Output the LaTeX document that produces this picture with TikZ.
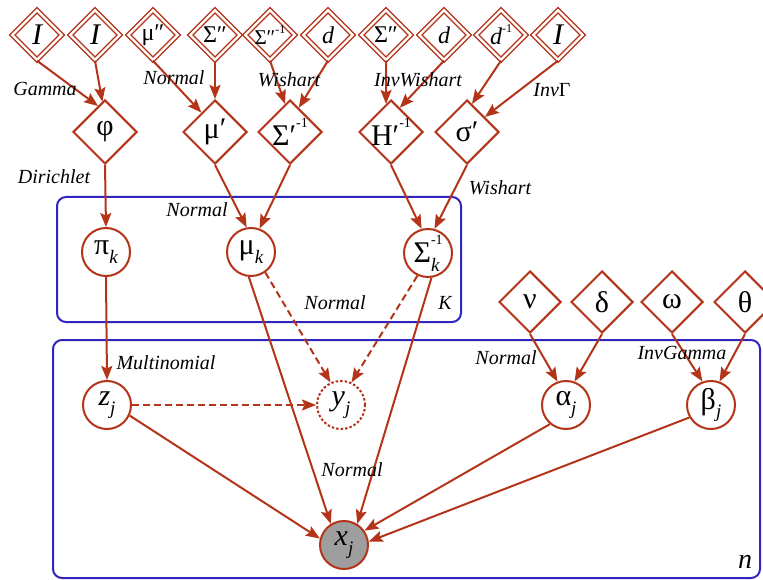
\documentclass[tikz,border=0pt]{standalone}
\usepackage{fontspec}
\setmainfont{Liberation Serif}
\usetikzlibrary{shapes.geometric,arrows.meta}
\definecolor{rb}{RGB}{180,52,26}
\definecolor{pl}{RGB}{48,38,190}
\definecolor{xg}{RGB}{158,158,158}
\newcommand\zw[1]{\makebox[0pt]{#1}}
\newcommand\lsub[1]{\raisebox{-0.28em}{\fontsize{19}{19}\selectfont\itshape #1}}
\newcommand\lsup[1]{\raisebox{0.62em}{\fontsize{14}{14}\selectfont #1}}
\newcommand\tsup[1]{\raisebox{0.5em}{\fontsize{12}{12}\selectfont #1}}
\tikzset{
 hyp/.style={diamond, aspect=1, draw=rb, double=white, double distance=2.4pt, line width=1.4pt, minimum size=50pt, inner sep=0pt, fill=white, font=\fontsize{24}{24}\selectfont},
 prm/.style={diamond, aspect=1, draw=rb, line width=2pt, minimum size=64pt, inner sep=0pt, fill=white, font=\fontsize{30}{30}\selectfont},
 prmb/.style={prm, minimum size=62pt},
 var/.style={circle, draw=rb, line width=2pt, minimum size=48pt, inner sep=0pt, fill=white, font=\fontsize{30}{30}\selectfont},
 obs/.style={var, fill=xg},
 hid/.style={var, dash pattern=on 2.5pt off 2pt},
 arr/.style={draw=rb, line width=2pt, -{Stealth[length=14pt,width=11pt,inset=2.5pt]}},
 darr/.style={arr, dash pattern=on 7pt off 4pt},
 plate/.style={draw=pl, line width=2pt, rounded corners=9pt},
 lab/.style={font=\fontsize{20}{21}\selectfont\itshape, inner sep=0pt},
}
\begin{document}
\begin{tikzpicture}[x=1pt,y=-1pt]
\useasboundingbox (0,0) rectangle (763,580);
% plates
\draw[plate] (57,197) rectangle (461,322);
\draw[plate] (53,340) rectangle (760,578);
% top hyperparameters
\node[hyp] (I1) at (37,35) {\zw{\fontsize{30}{30}\selectfont\itshape I}};
\node[hyp] (I2) at (95,35) {\zw{\fontsize{30}{30}\selectfont\itshape I}};
\node[hyp] (mupp) at (153,35) {\zw{μ″}};
\node[hyp] (Spp) at (215,35) {\zw{Σ″}};
\node[hyp] (Sppi) at (270,35) {\zw{\fontsize{21}{21}\selectfont Σ″\tsup{-1}}};
\node[hyp] (d1) at (328,35) {\zw{\itshape d}};
\node[hyp] (Spp2) at (386,35) {\zw{Σ″}};
\node[hyp] (d2) at (444,35) {\zw{\itshape d}};
\node[hyp] (di) at (501,35) {\zw{\itshape d\tsup{\upshape -1}}};
\node[hyp] (I3) at (558,35) {\zw{\fontsize{30}{30}\selectfont\itshape I}};
% middle parameters
\node[prm] (phi) at (105,132) {\zw{φ}};
\node[prm] (mup) at (215,132) {\zw{μ′}};
\node[prm] (Spi) at (290,132) {\zw{Σ′\lsup{-1}}};
\node[prm] (Hpi) at (391,132) {\zw{H′\lsup{-1}}};
\node[prm] (sgp) at (467,132) {\zw{σ′}};
% plate K
\node[var] (pik) at (106,252) {\zw{π\lsub{k}}};
\node[var] (muk) at (251,252) {\zw{μ\lsub{k}}};
\node[var] (Sk) at (428,253) {\zw{Σ\rlap{\lsup{-1}}\lsub{k}\hspace{3pt}}};
% right parameters
\node[prmb] (nu) at (530,302) {\zw{ν}};
\node[prmb] (dl) at (602,302) {\zw{δ}};
\node[prmb] (om) at (672,302) {\zw{ω}};
\node[prmb] (th) at (745,302) {\zw{θ}};
% plate n
\node[var] (zj) at (107,405) {\zw{\itshape z\lsub{j}}};
\node[hid] (yj) at (341,405) {\zw{\itshape y\lsub{j}}};
\node[var] (al) at (566,405) {\zw{α\lsub{j}}};
\node[var] (be) at (711,405) {\zw{β\lsub{j}}};
\node[obs] (xj) at (344,545) {\zw{\itshape x\lsub{j}}};
% edges top
\draw[arr] (I1.south) -- (phi.105);
\draw[arr] (I2.south) -- (phi.95);
\draw[arr] (mupp.south) -- (mup.125);
\draw[arr] (Spp.south) -- (mup.north);
\draw[arr] (Sppi.south) -- (Spi.100);
\draw[arr] (d1.south) -- (Spi.70);
\draw[arr] (Spp2.south) -- (Hpi.100);
\draw[arr] (d2.south) -- (Hpi.70);
\draw[arr] (di.south) -- (sgp.80);
\draw[arr] (I3.south) -- (sgp.40);
% middle to K
\draw[arr] (phi.south) -- (pik.north);
\draw[arr] (mup.south) -- (muk.100);
\draw[arr] (Spi.south) -- (muk.70);
\draw[arr] (Hpi.south) -- (Sk.105);
\draw[arr] (sgp.south) -- (Sk.75);
% K to n
\draw[arr] (pik.south) -- (zj.north);
\draw[darr] (muk.-55) -- (yj.115);
\draw[darr] (Sk.-115) -- (yj.65);
\draw[arr] (muk.-95) -- (xj.122);
\draw[arr] (Sk.-82) -- (xj.58);
\draw[darr] (zj.east) -- (yj.west);
\draw[arr] (zj.-25) -- (xj.165);
\draw[arr] (al.-130) -- (xj.35);
\draw[arr] (be.-150) -- (xj.8);
\draw[arr] (nu.south) -- (al.110);
\draw[arr] (dl.south) -- (al.70);
\draw[arr] (om.south) -- (be.110);
\draw[arr] (th.south) -- (be.70);
% labels
\node[lab] (l1) at (45,89) {Gamma};
\node[lab] (l2) at (174,78) {Normal};
\node[lab] (l3) at (289,80) {Wishart};
\node[lab] (l4) at (418,80) {InvWishart};
\node[lab] (l5) at (552,90) {Inv{\upshape Γ}};
\node[lab] (l6) at (54,177) {Dirichlet};
\node[lab] (l7) at (197,210) {Normal};
\node[lab] (l8) at (500,188) {Wishart};
\node[lab] (l9) at (335,303) {Normal};
\node[lab] (l10) at (445,303) {K};
\node[lab] (l11) at (166,363) {Multinomial};
\node[lab] (l12) at (506,358) {Normal};
\node[lab] (l13) at (682,353) {InvGamma};
\node[lab] (l14) at (352,470) {Normal};
\node[lab, font=\fontsize{28}{28}\selectfont\itshape] (l15) at (745,562) {n};
\end{tikzpicture}
\end{document}
